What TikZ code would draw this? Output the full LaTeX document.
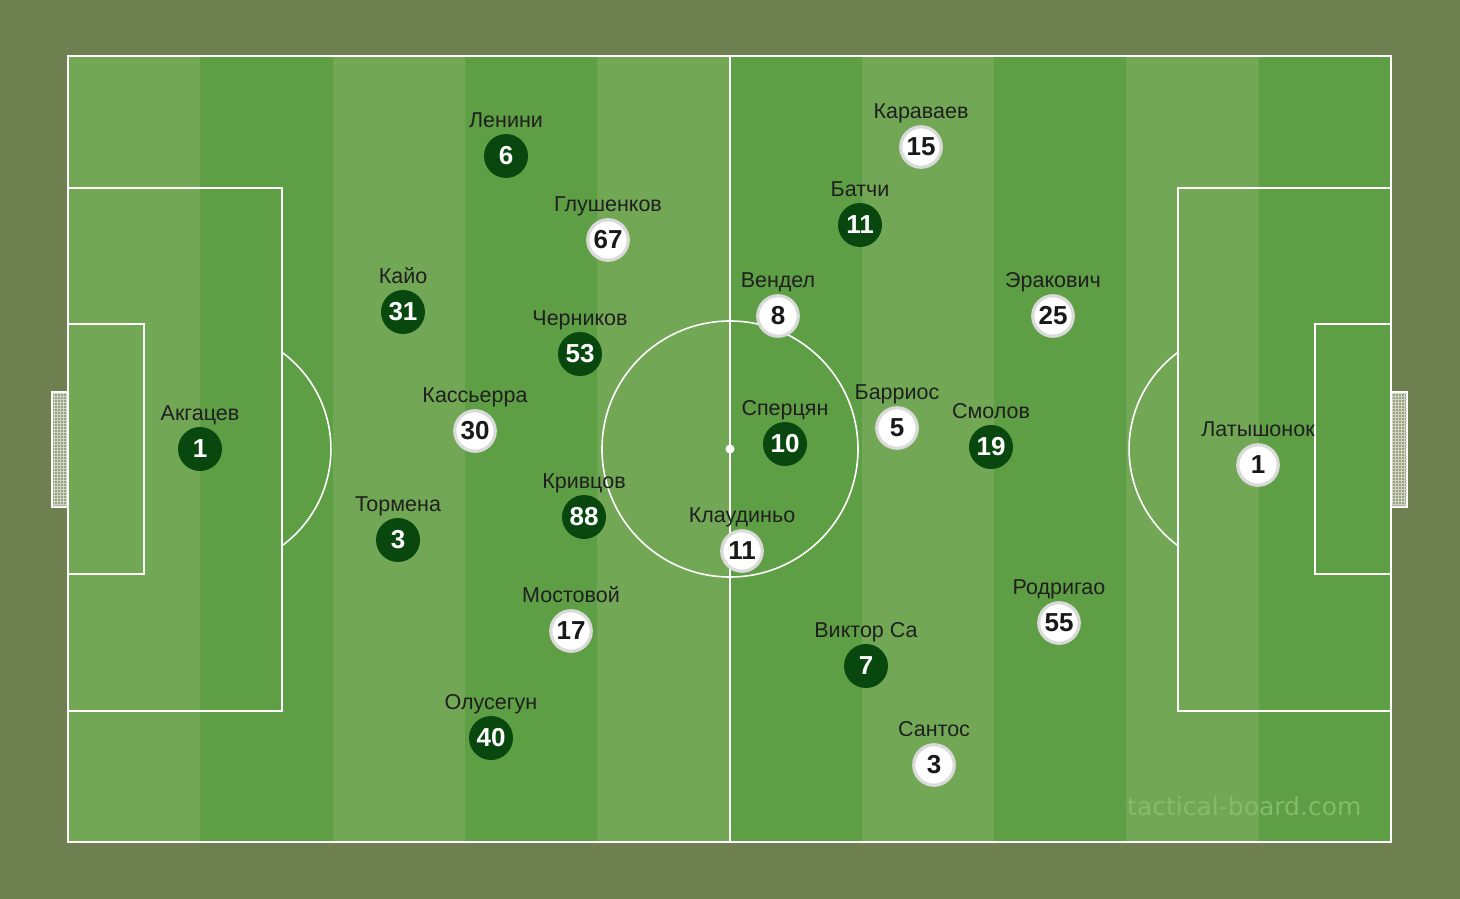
\documentclass[tikz,border=0pt]{standalone}
\usepackage{fontspec}
\setmainfont{Liberation Sans}
\newfontfamily\wmfont{DejaVu Sans}
\definecolor{bgc}{RGB}{110,127,80}
\definecolor{lightstripe}{RGB}{114,168,85}
\definecolor{darkstripe}{RGB}{94,158,68}
\definecolor{tokdark}{RGB}{8,72,14}
\definecolor{ringgrey}{RGB}{218,218,218}
\definecolor{netfill}{RGB}{150,162,128}
\definecolor{wmc}{RGB}{134,186,108}
\newcommand\plr[6]{%
  \node[#5] (#1) at (#2,#3) {#4};
  \node[lbl] (#1l) at ([yshift=28.5pt]#1.center) {#6};
}
\begin{document}
\begin{tikzpicture}[x=1pt,y=-1pt,
  fieldline/.style={draw=white,line width=1.6},
  dtok/.style={circle,fill=tokdark,minimum size=44,inner sep=0,text=white,font=\fontsize{26}{26}\selectfont\bfseries},
  wtok/.style={circle,fill=white,draw=ringgrey,line width=3.2,minimum size=40.5,inner sep=0,text=black!90,font=\fontsize{26}{26}\selectfont\bfseries},
  lbl/.style={anchor=base,inner sep=0,text=black!88,font=\fontsize{21.5}{21.5}\selectfont},
  goalnet/.style={fill=netfill,draw=white,line width=1.2}]
\useasboundingbox (0,0) rectangle (1460,899);
\fill[bgc] (0,0) rectangle (1460,899);
% stripes
\foreach \i in {0,...,9}{
  \pgfmathsetmacro{\xa}{68+\i*132.3}
  \pgfmathsetmacro{\xb}{68+(\i+1)*132.3}
  \pgfmathparse{mod(\i,2)==0?"lightstripe":"darkstripe"}
  \fill[\pgfmathresult] (\xa,56) rectangle (\xb,842);
}
% goals
\node[goalnet,rectangle,minimum width=16,minimum height=115,inner sep=0] (goalL) at (60,449.5) {};
\draw[white!55!netfill,line width=0.5,step=3pt] (52.5,392.5) grid (67.5,506.5);
\draw[white,line width=1.2] (goalL.north east) -- (goalL.north west) -- (goalL.south west) -- (goalL.south east);
\node[goalnet,rectangle,minimum width=16,minimum height=115,inner sep=0] (goalR) at (1399,449.5) {};
\draw[white!55!netfill,line width=0.5,step=3pt] (1391.5,392.5) grid (1406.5,506.5);
\draw[white,line width=1.2] (goalR.north west) -- (goalR.north east) -- (goalR.south east) -- (goalR.south west);
% field lines
\draw[fieldline,line width=2.2] (68,56) rectangle (1391,842);
\draw[fieldline] (730,56) -- (730,842);
\draw[fieldline] (730,449) circle (128);
\fill[white] (730,449) circle (4.5);
\draw[fieldline] (68,188) rectangle (282,711);
\draw[fieldline] (68,324) rectangle (144,574);
\draw[fieldline] (1178,188) rectangle (1391,711);
\draw[fieldline] (1315,324) rectangle (1391,574);
\draw[fieldline] (282,352.3) arc[start angle=-53.7,end angle=53.7,radius=120];
\draw[fieldline] (1178,352.3) arc[start angle=233.7,end angle=126.3,radius=120];
% watermark
\node[anchor=base west,inner sep=0,text=wmc,font=\wmfont\fontsize{25}{25}\selectfont] (wm) at (1127,815) {tactical-board.com};
% dark team
\plr{d1}{200}{449}{1}{dtok}{Акгацев}
\plr{d31}{403}{312}{31}{dtok}{Кайо}
\plr{d6}{506}{156}{6}{dtok}{Ленини}
\plr{d3}{398}{540}{3}{dtok}{Тормена}
\plr{d53}{580}{354}{53}{dtok}{Черников}
\plr{d88}{584}{517}{88}{dtok}{Кривцов}
\plr{d40}{491}{738}{40}{dtok}{Олусегун}
\plr{d11}{860}{225}{11}{dtok}{Батчи}
\plr{d10}{785}{444}{10}{dtok}{Сперцян}
\plr{d19}{991}{447}{19}{dtok}{Смолов}
\plr{d7}{866}{666}{7}{dtok}{Виктор Са}
% white team
\plr{w15}{921}{147}{15}{wtok}{Караваев}
\plr{w67}{608}{240}{67}{wtok}{Глушенков}
\plr{w8}{778}{316}{8}{wtok}{Вендел}
\plr{w25}{1053}{316}{25}{wtok}{Эракович}
\plr{w30}{475}{431}{30}{wtok}{Кассьерра}
\plr{w5}{897}{428}{5}{wtok}{Барриос}
\plr{w1}{1258}{465}{1}{wtok}{Латышонок}
\plr{w11}{742}{551}{11}{wtok}{Клаудиньо}
\plr{w17}{571}{631}{17}{wtok}{Мостовой}
\plr{w55}{1059}{623}{55}{wtok}{Родригао}
\plr{w3}{934}{765}{3}{wtok}{Сантос}
\end{tikzpicture}
\end{document}
